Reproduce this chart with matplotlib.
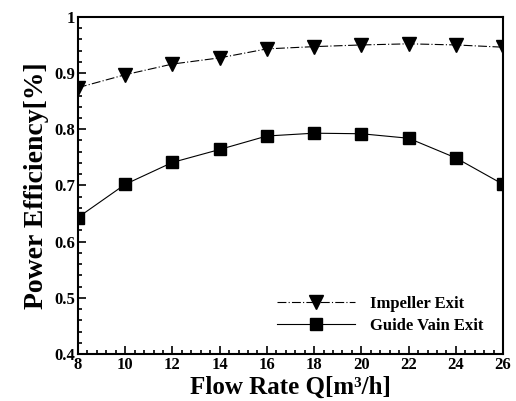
import matplotlib.pyplot as plt
from matplotlib.ticker import MultipleLocator

# datos
caudal = [8, 10, 12, 14, 16, 18, 20, 22, 24, 26]
impulsor = [0.874, 0.897, 0.916, 0.927, 0.943, 0.947, 0.950, 0.952, 0.950, 0.946]
difusor = [0.643, 0.702, 0.741, 0.764, 0.788, 0.793, 0.792, 0.784, 0.749, 0.702]

plt.rcParams["font.family"] = ["Liberation Serif", "DejaVu Serif"]
plt.rcParams["font.weight"] = "bold"

fig = plt.figure(figsize=(5.16, 4.01), dpi=100)
ax = fig.add_axes([0.151, 0.117, 0.824, 0.841])

ax.plot(caudal, impulsor, color="black", lw=0.8, linestyle=(0, (8, 2, 1, 2)),
        marker="v", markersize=10, label="Impeller Exit")
ax.plot(caudal, difusor, color="black", lw=0.8, linestyle="-",
        marker="s", markersize=8, label="Guide Vain Exit")

ax.set_xlim(8, 26)
ax.set_ylim(0.4, 1.0)
ax.xaxis.set_major_locator(MultipleLocator(2))
ax.xaxis.set_minor_locator(MultipleLocator(0.4))
ax.yaxis.set_major_locator(MultipleLocator(0.1))
ax.yaxis.set_minor_locator(MultipleLocator(0.02))
ax.set_yticks([0.4, 0.5, 0.6, 0.7, 0.8, 0.9, 1.0])
ax.set_yticklabels(["0.4", "0.5", "0.6", "0.7", "0.8", "0.9", "1"])

ax.tick_params(which="both", direction="in", top=False, right=False,
               labelsize=12, width=1.2)
ax.tick_params(which="major", length=6, pad=2)
ax.tick_params(which="minor", length=3)
for s in ax.spines.values():
    s.set_linewidth(1.5)

ax.set_xlabel("Flow Rate Q[m³/h]", fontsize=18, fontweight="bold", labelpad=2)
ax.set_ylabel("Power Efficiency[%]", fontsize=20, fontweight="bold", labelpad=4)

ax.legend(loc="center left", bbox_to_anchor=(0.433, 0.117), frameon=False,
          handlelength=4.7, handletextpad=0.85, labelspacing=0.35,
          borderpad=0.4, prop={"weight": "bold", "size": 12})

fig.savefig("out.png", dpi=100)
